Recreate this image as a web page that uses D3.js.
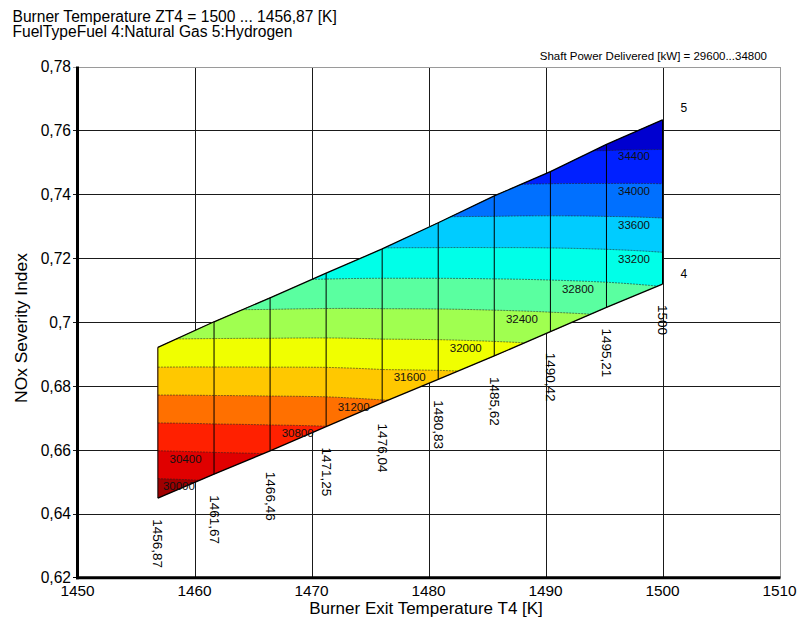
<!DOCTYPE html>
<html>
<head>
<meta charset="utf-8">
<script src="https://cdn.jsdelivr.net/npm/d3@7"></script>
<style>
  html, body { margin: 0; padding: 0; background: #fff; }
  svg { display: block; font-family: "Liberation Sans", Arial, Helvetica, sans-serif; }
</style>
</head>
<body>
<svg id="chart" width="797" height="619"></svg>
<script>
// Carpet of burner exit temperature (T4 lines) against fuel type (4 = natural gas, 5 = hydrogen)
const T4 = [1456.87, 1461.67, 1466.46, 1471.25, 1476.04, 1480.83, 1485.62, 1490.42, 1495.21, 1500];
const noxFuel4 = [0.6449, 0.6524, 0.6597, 0.6673, 0.6748, 0.6821, 0.6894, 0.6970, 0.7046, 0.7119];
const noxFuel5 = [0.6921, 0.7001, 0.7076, 0.7153, 0.7229, 0.7311, 0.7395, 0.7471, 0.7556, 0.7633];
const powerFuel4 = [29720, 30094, 30441, 30795, 31165, 31483, 31814, 32157, 32494, 32829];
const powerFuel5 = [31885, 32236, 32561, 32880, 33186, 33525, 33862, 34151, 34475, 34746];
const fuelNames = ["4", "5"];

// Shaft power contour levels and band colours (lowest band first)
const powerRange = [29600, 34800];
const isoLevels = [30000, 30400, 30800, 31200, 31600, 32000, 32400, 32800, 33200, 33600, 34000, 34400];
const bandColors = ["#a00000", "#e00000", "#ff2000", "#ff7000", "#ffc800", "#f0ff00", "#a0ff50",
                    "#5affa0", "#00ffe8", "#00ccff", "#0070ff", "#0020ff", "#0000d0"];

// Axes
const xTicks = [1450, 1460, 1470, 1480, 1490, 1500, 1510];
const yTicks = [0.62, 0.64, 0.66, 0.68, 0.70, 0.72, 0.74, 0.76, 0.78];

const svg = d3.select("#chart");
const x = d3.scaleLinear().domain([1450, 1510]).range([77.5, 779.5]);
const y = d3.scaleLinear().domain([0.62, 0.78]).range([577.7, 66.5]);
const comma = v => String(+v.toFixed(4)).replace(".", ",");
const crisp = v => Math.round(v) + 0.5;

// Titles
svg.append("text").attr("x", 12.5).attr("y", 21.5).attr("font-size", 15.6)
  .text(`Burner Temperature ZT4 = ${comma(T4[T4.length - 1])} ... ${comma(T4[0])} [K]`);
svg.append("text").attr("x", 12.5).attr("y", 37.2).attr("font-size", 15.6)
  .text(`FuelTypeFuel ${fuelNames[0]}:Natural Gas ${fuelNames[1]}:Hydrogen`);
svg.append("text").attr("x", 767).attr("y", 59.5).attr("font-size", 11.5).attr("text-anchor", "end")
  .text(`Shaft Power Delivered [kW] = ${powerRange[0]}...${powerRange[1]}`);

// Grid
const grid = svg.append("g").attr("shape-rendering", "crispEdges");
xTicks.slice(1, -1).forEach(t => {
  grid.append("line").attr("x1", crisp(x(t))).attr("x2", crisp(x(t)))
    .attr("y1", y(0.78)).attr("y2", y(0.62)).attr("stroke", "#1a1a1a").attr("stroke-width", 1);
});
yTicks.slice(1, -1).forEach(v => {
  grid.append("line").attr("x1", x(1450) - 5).attr("x2", x(1510))
    .attr("y1", crisp(y(v))).attr("y2", crisp(y(v))).attr("stroke", "#1a1a1a").attr("stroke-width", 1);
});
// frame (top / right)
grid.append("line").attr("x1", x(1450) - 5).attr("x2", x(1510)).attr("y1", crisp(y(0.78))).attr("y2", crisp(y(0.78)))
  .attr("stroke", "#9a9a9a");
grid.append("line").attr("x1", crisp(x(1510))).attr("x2", crisp(x(1510))).attr("y1", y(0.78)).attr("y2", y(0.62))
  .attr("stroke", "#9a9a9a");
grid.append("line").attr("x1", x(1450) - 5).attr("x2", x(1450)).attr("y1", crisp(y(0.62)) - 1).attr("y2", crisp(y(0.62)) - 1)
  .attr("stroke", "#000");

// --- carpet interpolation ---
const SUB = 24;                         // samples per T4 interval
const nu = (T4.length - 1) * SUB + 1;   // samples along T4
const nf = 41;                          // samples along fuel parameter
const lerp = (a, b, t) => a + (b - a) * t;
function paramAt(s) {
  const u = Math.max(0, Math.min(T4.length - 1, s));
  const k = Math.min(Math.floor(u), T4.length - 2);
  const t = u - k;
  return {
    T: lerp(T4[k], T4[k + 1], t),
    n4: lerp(noxFuel4[k], noxFuel4[k + 1], t),
    n5: lerp(noxFuel5[k], noxFuel5[k + 1], t),
    p4: lerp(powerFuel4[k], powerFuel4[k + 1], t),
    p5: lerp(powerFuel5[k], powerFuel5[k + 1], t)
  };
}
function toXY(s, f) {
  const q = paramAt(s);
  return [x(q.T), y(q.n4 + f * (q.n5 - q.n4))];
}

// power sampled on the (T4, fuel) grid
const values = new Array(nu * nf);
for (let j = 0; j < nf; j++) {
  const f = j / (nf - 1);
  for (let i = 0; i < nu; i++) {
    const q = paramAt(i / SUB);
    values[j * nu + i] = q.p4 + f * (q.p5 - q.p4);
  }
}

// grid coordinates -> screen through the carpet mapping
const carpetProjection = d3.geoTransform({
  point(cx, cy) {
    const si = Math.max(0, Math.min(nu - 1, cx - 0.5));
    const sj = Math.max(0, Math.min(nf - 1, cy - 0.5));
    const p = toXY(si / SUB, sj / (nf - 1));
    this.stream.point(p[0], p[1]);
  }
});
const carpetPath = d3.geoPath(carpetProjection);

const carpet = svg.append("g");

// base band = whole carpet
const outline = T4.map((t, i) => [x(t), y(noxFuel4[i])])
  .concat(T4.map((t, i) => [x(t), y(noxFuel5[i])]).reverse());
carpet.append("path").attr("d", d3.line()(outline) + "Z").attr("fill", bandColors[0]);

// filled bands above each level
const bands = d3.contours().size([nu, nf]).thresholds(isoLevels)(values);
carpet.selectAll("path.band").data(bands).join("path")
  .attr("class", "band")
  .attr("d", carpetPath)
  .attr("fill", (d, i) => bandColors[i + 1]);

// iso-lines
function isoSegments(L) {
  const segs = [];
  const N = (T4.length - 1) * 60;
  let cur = null, prev = null;
  for (let k = 0; k <= N; k++) {
    const s = k / 60;
    const q = paramAt(s);
    const f = (L - q.p4) / (q.p5 - q.p4);
    const inside = f >= 0 && f <= 1;
    if (prev && inside !== prev.inside) {
      const outF = inside ? prev.f : f;
      const b = outF < 0 ? 0 : 1;
      const t = (b - prev.f) / (f - prev.f);
      const pt = toXY(prev.s + t * (s - prev.s), b);
      if (inside) cur = [pt];
      else { cur.push(pt); segs.push(cur); cur = null; }
    } else if (!prev && inside) cur = [];
    if (inside) cur.push(toXY(s, f));
    prev = { s, f, inside };
  }
  if (cur && cur.length > 1) segs.push(cur);
  return segs;
}
const isoG = carpet.append("g").attr("fill", "none").attr("stroke", "#222")
  .attr("stroke-width", 0.8).attr("stroke-opacity", 0.75).attr("stroke-dasharray", "2,1");
isoLevels.forEach(L => {
  isoSegments(L).forEach(seg => isoG.append("path").attr("d", d3.line()(seg)));
});

// T4 lines and fuel lines
const lines = carpet.append("g").attr("fill", "none").attr("stroke", "#000");
T4.forEach((t, i) => {
  lines.append("line").attr("x1", x(t)).attr("x2", x(t))
    .attr("y1", y(noxFuel4[i])).attr("y2", y(noxFuel5[i])).attr("stroke-width", 1);
});
[noxFuel4, noxFuel5].forEach(arr => {
  lines.append("path").attr("d", d3.line()(T4.map((t, i) => [x(t), y(arr[i])])))
    .attr("stroke-width", 1.3);
});

// contour labels, set just under each line beside the last T4 line it crosses
const labelG = carpet.append("g").attr("font-size", 11.5).attr("fill", "#111");
isoLevels.forEach(L => {
  let k = -1;
  T4.forEach((t, i) => { if (powerFuel4[i] <= L && L <= powerFuel5[i]) k = i; });
  if (k < 0) return;
  const f = (L - powerFuel4[k]) / (powerFuel5[k] - powerFuel4[k]);
  const yc = y(noxFuel4[k] + f * (noxFuel5[k] - noxFuel4[k]));
  const txt = labelG.append("text").text(L).attr("y", yc + 11);
  if (k === 0) txt.attr("x", x(T4[0]) + 5).attr("text-anchor", "start");
  else txt.attr("x", x(T4[k]) - 12.5).attr("text-anchor", "end");
});

// T4 line labels below the natural gas line
const tLab = svg.append("g").attr("font-size", 13.5);
T4.forEach((t, i) => {
  const px = x(t), py = y(noxFuel4[i]) + 21;
  tLab.append("text").attr("transform", `translate(${px},${py}) rotate(90)`)
    .attr("dominant-baseline", "central").text(comma(t));
});

// fuel line labels at the hot end
const last = T4.length - 1;
svg.append("text").attr("x", x(T4[last]) + 18).attr("y", y(noxFuel5[last]) - 7.5)
  .attr("font-size", 12).text(fuelNames[1]);
svg.append("text").attr("x", x(T4[last]) + 18).attr("y", y(noxFuel4[last]) - 6)
  .attr("font-size", 12).text(fuelNames[0]);

// axes
const axisG = svg.append("g");
axisG.append("line").attr("x1", x(1450)).attr("x2", x(1450)).attr("y1", y(0.78)).attr("y2", y(0.62) + 1.5)
  .attr("stroke", "#000").attr("stroke-width", 3);
axisG.append("line").attr("x1", x(1450) - 1.5).attr("x2", x(1510) + 1).attr("y1", y(0.62)).attr("y2", y(0.62))
  .attr("stroke", "#000").attr("stroke-width", 3);
yTicks.forEach(v => {
  axisG.append("text").attr("x", 71).attr("y", y(v)).attr("dy", "0.36em")
    .attr("text-anchor", "end").attr("font-size", 15.6).text(comma(v));
});
xTicks.forEach(t => {
  axisG.append("text").attr("x", x(t)).attr("y", 595.8)
    .attr("text-anchor", "middle").attr("font-size", 15.4).text(t);
});
axisG.append("text").attr("x", 426).attr("y", 614).attr("text-anchor", "middle")
  .attr("font-size", 17).text("Burner Exit Temperature T4 [K]");
axisG.append("text").attr("transform", "translate(27,328) rotate(-90)").attr("text-anchor", "middle")
  .attr("font-size", 17.4).text("NOx Severity Index");
</script>
</body>
</html>
